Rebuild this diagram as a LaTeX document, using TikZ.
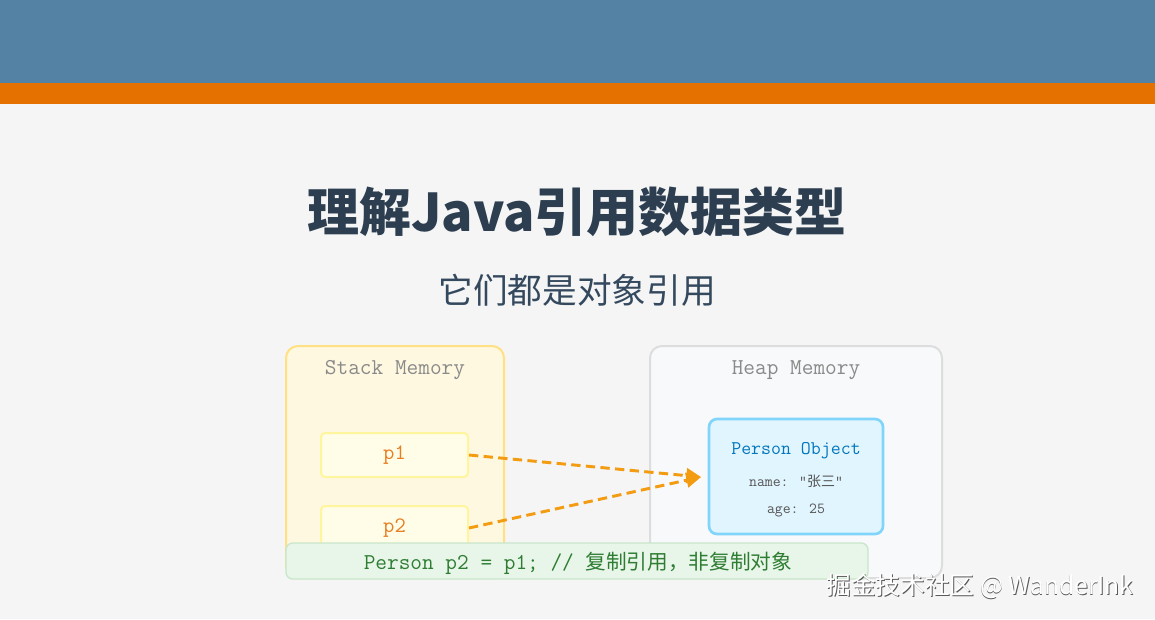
\documentclass[tikz,border=0pt]{standalone}
\usepackage{fontspec}
\setmainfont{Noto Sans CJK SC}
\newfontfamily\cjk{Noto Sans CJK SC}
\usetikzlibrary{arrows.meta}
\definecolor{bgc}{HTML}{F5F5F5}
\definecolor{bandblue}{HTML}{5482A5}
\definecolor{bandorange}{HTML}{E57200}
\definecolor{titlec}{HTML}{2C3E50}
\definecolor{subc}{HTML}{34495E}
\definecolor{stackfill}{HTML}{FFF8E1}
\definecolor{stackdraw}{HTML}{FFE082}
\definecolor{varfill}{HTML}{FFFDE7}
\definecolor{vardraw}{HTML}{FFF59D}
\definecolor{varc}{HTML}{E67E22}
\definecolor{heapfill}{HTML}{F8F9FA}
\definecolor{heapdraw}{HTML}{DDDDDD}
\definecolor{objfill}{HTML}{E1F5FE}
\definecolor{objdraw}{HTML}{81D4FA}
\definecolor{objc}{HTML}{0277BD}
\definecolor{fieldc}{HTML}{555555}
\definecolor{arrowc}{HTML}{F39C12}
\definecolor{codefill}{HTML}{E8F5E9}
\definecolor{codedraw}{HTML}{C8E6C9}
\definecolor{codec}{HTML}{2E7D32}
\definecolor{labelc}{HTML}{8A8A8A}
\tikzset{
  memarea/.style={draw, line width=1.5pt, rounded corners=9pt},
  varbox/.style={draw=vardraw, fill=varfill, line width=1.5pt, rounded corners=3pt,
    minimum width=110.25pt, minimum height=33pt, inner sep=0pt,
    text=varc, font=\ttfamily\fontsize{16.5}{16.5}\selectfont},
  memlabel/.style={text=labelc, font=\ttfamily\fontsize{17}{17}\selectfont},
  refarrow/.style={draw=arrowc, line width=2.2pt, dash pattern=on 7pt off 4pt,
    -{Triangle[length=11pt,width=11pt,fill=arrowc]}},
  wmtext/.style={font=\cjk\fontsize{18.5}{20}\selectfont},
}
\begin{document}
\begin{tikzpicture}[x=0.75pt,y=-0.75pt]
\useasboundingbox (0,0) rectangle (1155,619);
\fill[bgc] (0,0) rectangle (1155,619);
\fill[bandblue] (0,0) rectangle (1155,83);
\fill[bandorange] (0,83) rectangle (1155,104);
\node (title) at (577,212) {\cjk\bfseries\color{titlec}\fontsize{39}{40}\selectfont 理解Java引用数据类型};
\node (subtitle) at (577,290) {\cjk\color{subc}\fontsize{26}{28}\selectfont 它们都是对象引用};
% stack area
\draw[memarea, draw=stackdraw, fill=stackfill] (286,346) rectangle (504,578);
\node[memlabel] (stacklbl) at (395,370) {Stack Memory};
\node[varbox] (p1) at (394.5,455) {\raisebox{-2pt}{p1}};
\node[varbox] (p2) at (394.5,528) {\raisebox{-2pt}{p2}};
% heap area
\draw[memarea, draw=heapdraw, fill=heapfill] (650,346) rectangle (942,578);
\node[memlabel] (heaplbl) at (796,370) {Heap Memory};
\node[draw=objdraw, fill=objfill, line width=2pt, rounded corners=6pt,
  minimum width=130.5pt, minimum height=86.25pt, inner sep=0pt] (obj) at (796,476.5) {};
\node[text=objc, font=\ttfamily\fontsize{14.5}{16}\selectfont] (objname) at (796,451) {Person Object};
\node[text=fieldc, font=\ttfamily\fontsize{11.5}{13}\selectfont] (fname) at (796,481) {name: "{\cjk\fontsize{10.5}{12}\selectfont 张三}"};
\node[text=fieldc, font=\ttfamily\fontsize{11.5}{13}\selectfont] (fage) at (796,510) {age: 25};
% arrows
\coordinate (tip) at (701,477);
\draw[refarrow] (p1.east) -- (tip);
\draw[refarrow] (p2.east) -- (tip);
% code line
\node[draw=codedraw, fill=codefill, line width=1pt, rounded corners=5pt,
  minimum width=436.5pt, minimum height=27pt, inner sep=0pt] (code) at (577,561) {};
\node[text=codec, font=\ttfamily\fontsize{17}{18}\selectfont] (codetxt) at (578,563)
  {Person p2 = p1; // {\cjk\fontsize{15.5}{16}\selectfont 复制引用，非复制对象}};
% watermark
\node[text=black!65, wmtext] (wm1) at (980.8,586.8) {掘金技术社区 @ WanderInk};
\node[text=white, wmtext] (wm) at (980,586) {掘金技术社区 @ WanderInk};
\end{tikzpicture}
\end{document}
